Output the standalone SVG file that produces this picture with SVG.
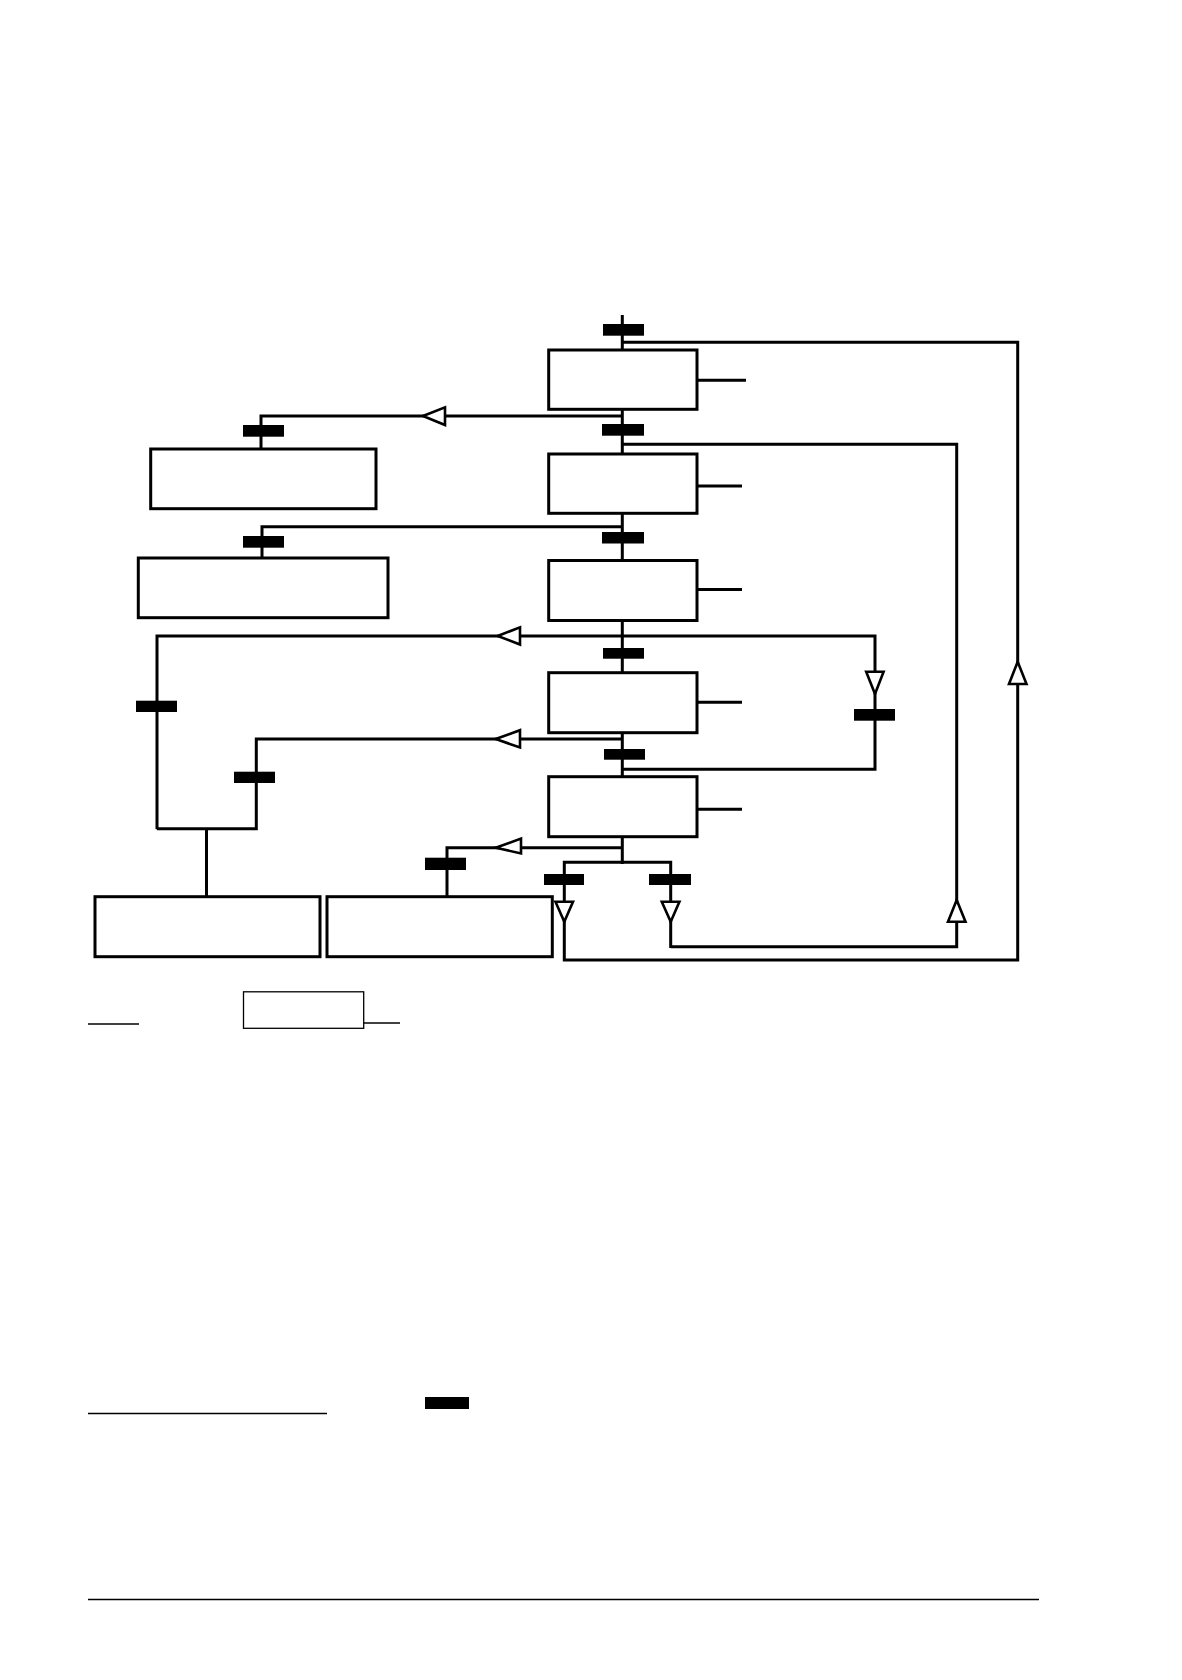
<svg xmlns="http://www.w3.org/2000/svg" width="1182" height="1680" viewBox="0 0 1182 1680">
<style>
.box{fill:#fff;stroke:#000;stroke-width:3}
.ln{fill:none;stroke:#000;stroke-width:3;stroke-linecap:butt;stroke-linejoin:miter}
.thin{fill:none;stroke:#000;stroke-width:1.3}
.bar{fill:#000}
.arr{fill:#fff;stroke:#000;stroke-width:2.6;stroke-linejoin:miter}
</style>
<rect width="1182" height="1680" fill="#fff"/>
<g id="connectors">
<path class="ln" d="M622.3 315 V864"/>
<path class="ln" d="M622.3 342.3 H1017.7 V960 H564.3 V862.3 H670.7 V948"/>
<path class="ln" d="M670.7 946.7 H956.7 V444.3 H622.3"/>
<path class="ln" d="M622.3 416 H261 V449"/>
<path class="ln" d="M622.3 526.7 H262 V558"/>
<path class="ln" d="M622.3 769.3 H875 V636 H157 V829.3"/>
<path class="ln" d="M157 828.7 H256.3 V739 H622.3"/>
<path class="ln" d="M206.5 828.7 V896.7"/>
<path class="ln" d="M622.3 847.7 H447 V896.7"/>
<path class="ln" d="M697 380.3 H746 M697 486 H742 M697 589.4 H742 M697 702.3 H742 M697 809.3 H742"/>
<polygon class="arr" points="423,416 445,407.3 445,425"/>
<polygon class="arr" points="497.7,636 520,627.3 520,644.5"/>
<polygon class="arr" points="495.7,739 520,730.2 520,747.5"/>
<polygon class="arr" points="495.7,847.7 521,838.6 521,853.4"/>
<polygon class="arr" points="875,694 866.2,671.7 883.6,671.7"/>
<polygon class="arr" points="564.3,921.7 555.5,901.7 573,901.7"/>
<polygon class="arr" points="670.7,921.7 661.8,901.7 679.4,901.7"/>
<polygon class="arr" points="956.7,900 948,921.7 965.5,921.7"/>
<polygon class="arr" points="1017.7,661.7 1009,684 1026.5,684"/>
</g>
<g id="transitions">
<rect class="bar" x="603" y="324" width="41" height="11.7"/>
<rect class="bar" x="602" y="424" width="42" height="11.7"/>
<rect class="bar" x="602" y="532" width="42" height="11.5"/>
<rect class="bar" x="603" y="648" width="41" height="10.7"/>
<rect class="bar" x="604" y="749" width="41" height="10.7"/>
<rect class="bar" x="243" y="425" width="41" height="11.7"/>
<rect class="bar" x="243" y="536" width="41" height="11.7"/>
<rect class="bar" x="136" y="700.7" width="41" height="11.3"/>
<rect class="bar" x="234" y="771.7" width="41" height="11.3"/>
<rect class="bar" x="425" y="857.7" width="41" height="12.3"/>
<rect class="bar" x="854" y="709" width="41" height="11.7"/>
<rect class="bar" x="544" y="874" width="40" height="11"/>
<rect class="bar" x="649" y="874" width="42" height="11"/>
</g>
<g id="step1"><rect class="box" x="548.7" y="350" width="148.3" height="59.3"/></g>
<g id="step2"><rect class="box" x="548.7" y="454" width="148.3" height="59.3"/></g>
<g id="step3"><rect class="box" x="548.7" y="560.5" width="148.3" height="60"/></g>
<g id="step4"><rect class="box" x="548.7" y="672.7" width="148.3" height="60"/></g>
<g id="step5"><rect class="box" x="548.7" y="776.7" width="148.3" height="60"/></g>
<g id="stepA"><rect class="box" x="150.7" y="449" width="225.3" height="59.7"/></g>
<g id="stepB"><rect class="box" x="138.3" y="558" width="249.7" height="59.7"/></g>
<g id="stepC"><rect class="box" x="95" y="896.7" width="225" height="60"/></g>
<g id="stepD"><rect class="box" x="327" y="896.7" width="225.3" height="60"/></g>
<g id="legend">
<path class="thin" d="M88 1024 H139"/>
<rect class="thin" x="243.5" y="991.8" width="120.2" height="36.5"/>
<path class="thin" d="M363.7 1023 H400"/>
<path class="thin" d="M88 1413.5 H327"/>
<rect class="bar" x="425" y="1397" width="44" height="12"/>
<path class="thin" d="M88 1599.5 H1039"/>
</g>
</svg>
